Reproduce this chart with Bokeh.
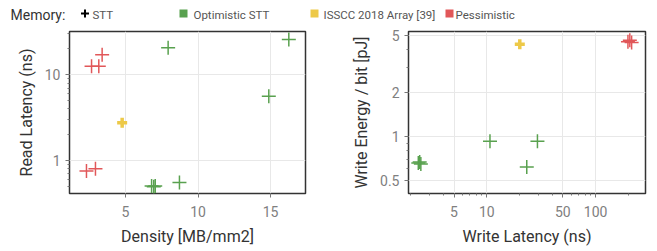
from bokeh.plotting import figure
from bokeh.layouts import column, row
from bokeh.models import Range1d, FixedTicker
from bokeh.core.properties import value
from bokeh.embed import file_html
from bokeh.resources import INLINE

FONT = "Roboto"
RED = "#e15759"
GREEN = "#59a14f"
YELLOW = "#edc948"

# ---- data: left plot (Density vs Read Latency) ----
pess_density = [3.39, 2.66, 3.16, 2.31, 2.93]
pess_read = [17.1, 12.6, 12.6, 0.75, 0.80]
isscc_density = [4.77]
isscc_read = [2.75]
opt_density = [7.94, 16.26, 14.88, 8.72, 6.8, 6.95, 7.05]
opt_read = [20.7, 25.8, 5.6, 0.55, 0.50, 0.49, 0.50]

# ---- data: right plot (Write Latency vs Write Energy) ----
pess_wlat = [198, 206, 214]
pess_wen = [4.5, 4.6, 4.45]
isscc_wlat = [20.1]
isscc_wen = [4.33]
opt_wlat = [10.7, 29.2, 23.3, 2.35, 2.42, 2.48]
opt_wen = [0.93, 0.93, 0.62, 0.66, 0.67, 0.65]

legend_labels = ["Optimistic STT", "ISSCC 2018 Array [39]", "Pessimistic"]
legend_colors = [GREEN, YELLOW, RED]


def style(p):
    p.outline_line_color = "#333333"
    p.outline_line_width = 1.5
    p.background_fill_color = "white"
    p.border_fill_color = "white"
    for ax in (p.xaxis[0], p.yaxis[0]):
        ax.axis_line_color = None
        ax.major_tick_line_color = "#777777"
        ax.minor_tick_line_color = "#777777"
        ax.major_tick_out = 4
        ax.major_tick_in = 0
        ax.minor_tick_out = 2
        ax.minor_tick_in = 0
        ax.major_label_text_font = FONT
        ax.major_label_text_font_size = "14px"
        ax.major_label_text_color = "#808080"
        ax.axis_label_text_font = FONT
        ax.axis_label_text_font_size = "16px"
        ax.axis_label_text_font_style = "normal"
        ax.axis_label_text_color = "#333333"
    p.xaxis.major_label_standoff = 8
    p.xaxis.axis_label_standoff = 7
    p.yaxis.major_label_standoff = 5
    p.yaxis.axis_label_standoff = 6
    p.grid.grid_line_color = "#e8e8e8"
    p.grid.grid_line_width = 1


def pts(p, xs, ys, color, size=14, lw=1.5):
    p.scatter(xs, ys, marker="cross", size=size, line_color=color, line_width=lw)


# ---- legend strip ----
leg = figure(width=657, height=26, x_range=Range1d(0, 657), y_range=Range1d(26, 0),
             toolbar_location=None, output_backend="svg", min_border=0)
leg.axis.visible = False
leg.grid.visible = False
leg.outline_line_color = None
leg.text([10], [14], text=["Memory:"], text_font=value(FONT), text_font_size="14px",
         text_color="#333333", text_baseline="middle")
leg.scatter([84.5], [13], marker="cross", size=8, line_color="black", line_width=2)
leg.text([92], [14], text=["STT"], text_font=value(FONT), text_font_size="11.5px",
         text_color="#555555", text_baseline="middle")
sq_x = [183, 314, 449]
txt_x = [193, 323, 455]
leg.scatter(sq_x, [13, 13, 13], marker="square", size=8, fill_color=legend_colors,
            line_color=None)
leg.text(txt_x, [14, 14, 14], text=legend_labels, text_font=value(FONT),
         text_font_size="11.5px", text_color="#555555", text_baseline="middle")

# ---- left plot ----
p1 = figure(width=345, height=225, y_axis_type="log",
            x_range=Range1d(1.14, 17.41), y_range=Range1d(0.41, 32),
            toolbar_location=None, output_backend="svg",
            min_border_left=69, min_border_right=40, min_border_top=5, min_border_bottom=58)
style(p1)
p1.xaxis.ticker = FixedTicker(ticks=[5, 10, 15])
p1.yaxis.ticker = FixedTicker(ticks=[1, 10],
                              minor_ticks=[0.5, 0.6, 0.7, 0.8, 0.9, 2, 3, 4, 5, 6, 7, 8, 9, 20, 30])
p1.yaxis.major_label_overrides = {1: "1", 10: "10"}
p1.xaxis.axis_label = "Density [MB/mm2]"
p1.yaxis.axis_label = "Read Latency (ns)"
pts(p1, pess_density, pess_read, RED)
pts(p1, opt_density, opt_read, GREEN)
pts(p1, isscc_density, isscc_read, YELLOW, size=10, lw=3.5)

# ---- right plot ----
p2 = figure(width=312, height=225, x_axis_type="log", y_axis_type="log",
            x_range=Range1d(1.91, 287), y_range=Range1d(0.407, 5.29),
            toolbar_location=None, output_backend="svg",
            min_border_left=63, min_border_right=12, min_border_top=5, min_border_bottom=58)
style(p2)
p2.xaxis.ticker = FixedTicker(ticks=[5, 10, 50, 100],
                              minor_ticks=[2, 3, 4, 6, 7, 8, 9, 20, 30, 40, 60, 70, 80, 90, 200])
p2.yaxis.ticker = FixedTicker(ticks=[0.5, 1, 2, 5],
                              minor_ticks=[0.6, 0.7, 0.8, 0.9, 3, 4])
p2.xaxis.major_label_overrides = {5: "5", 10: "10", 50: "50", 100: "100"}
p2.yaxis.major_label_overrides = {0.5: "0.5", 1: "1", 2: "2", 5: "5"}
p2.xaxis.axis_label = "Write Latency (ns)"
p2.yaxis.axis_label = "Write Energy / bit [pJ]"
pts(p2, opt_wlat, opt_wen, GREEN)
pts(p2, pess_wlat, pess_wen, RED)
pts(p2, isscc_wlat, isscc_wen, YELLOW, size=10, lw=3.5)

layout = column(leg, row(p1, p2, spacing=0), spacing=0)
open("out.html", "w").write(file_html(layout, INLINE))
